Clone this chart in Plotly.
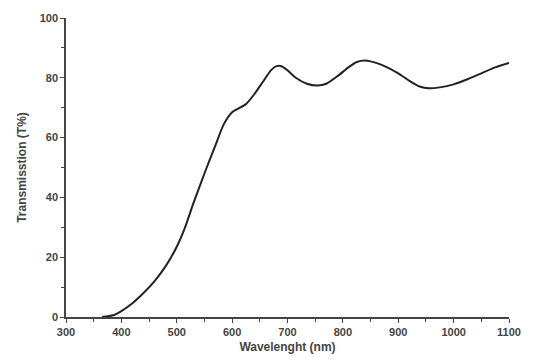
import plotly.graph_objects as go

wavelength = [365, 385, 400, 420, 440, 460, 480, 500, 515, 530, 550, 570, 585, 600, 612,
              625, 640, 655, 670, 680, 690, 700, 715, 735, 754, 770, 790, 810, 825, 840,
              860, 880, 900, 920, 940, 955, 975, 1000, 1025, 1050, 1075, 1100]
transmission = [0, 0.6, 2, 4.6, 8, 12, 17, 23.5, 30, 38, 48, 57.5, 64.5, 68.5, 69.8,
                71.2, 74.5, 78.5, 82.5, 83.9, 83.8, 82.5, 80, 78, 77.4, 78, 80.5, 83.5, 85.3, 85.8,
                85, 83.5, 81.5, 79, 77, 76.5, 76.8, 77.8, 79.5, 81.5, 83.5, 85]

x_ticks = [300, 400, 500, 600, 700, 800, 900, 1000, 1100]
y_ticks = [0, 20, 40, 60, 80, 100]

fig = go.Figure()
fig.add_trace(go.Scatter(x=wavelength, y=transmission, mode="lines",
                         line=dict(color="#222222", width=2, shape="spline", smoothing=0.6),
                         showlegend=False))

font_tick = dict(family="Liberation Sans, Arial, sans-serif", size=11, color="#444444")
font_title = dict(family="Liberation Sans, Arial, sans-serif", size=12, color="#444444")

fig.update_layout(
    width=533, height=364,
    margin=dict(l=66, r=20, t=15, b=47),
    paper_bgcolor="white", plot_bgcolor="white",
    xaxis=dict(range=[300, 1100], tickvals=x_ticks, ticktext=[f"<b>{v}</b>" for v in x_ticks],
               showgrid=False, zeroline=False, showline=True, linecolor="#444444", linewidth=1.5,
               ticks="outside", ticklen=4, tickcolor="#444444", tickfont=font_tick,
               minor=dict(dtick=50, tick0=300, ticks="outside", ticklen=3, tickcolor="#444444"),
               title=dict(text="<b>Wavelenght (nm)</b>", font=font_title, standoff=6)),
    yaxis=dict(range=[0, 100], tickvals=y_ticks, ticktext=[f"<b>{v}</b>" for v in y_ticks],
               showgrid=False, zeroline=False, showline=True, linecolor="#444444", linewidth=1.5,
               ticks="outside", ticklen=4, tickcolor="#444444", tickfont=font_tick,
               minor=dict(dtick=10, tick0=0, ticks="outside", ticklen=3, tickcolor="#444444"),
               title=dict(text="<b>Transmisstion (T%)</b>", font=font_title, standoff=10)),
)

fig.write_html("out.html")
